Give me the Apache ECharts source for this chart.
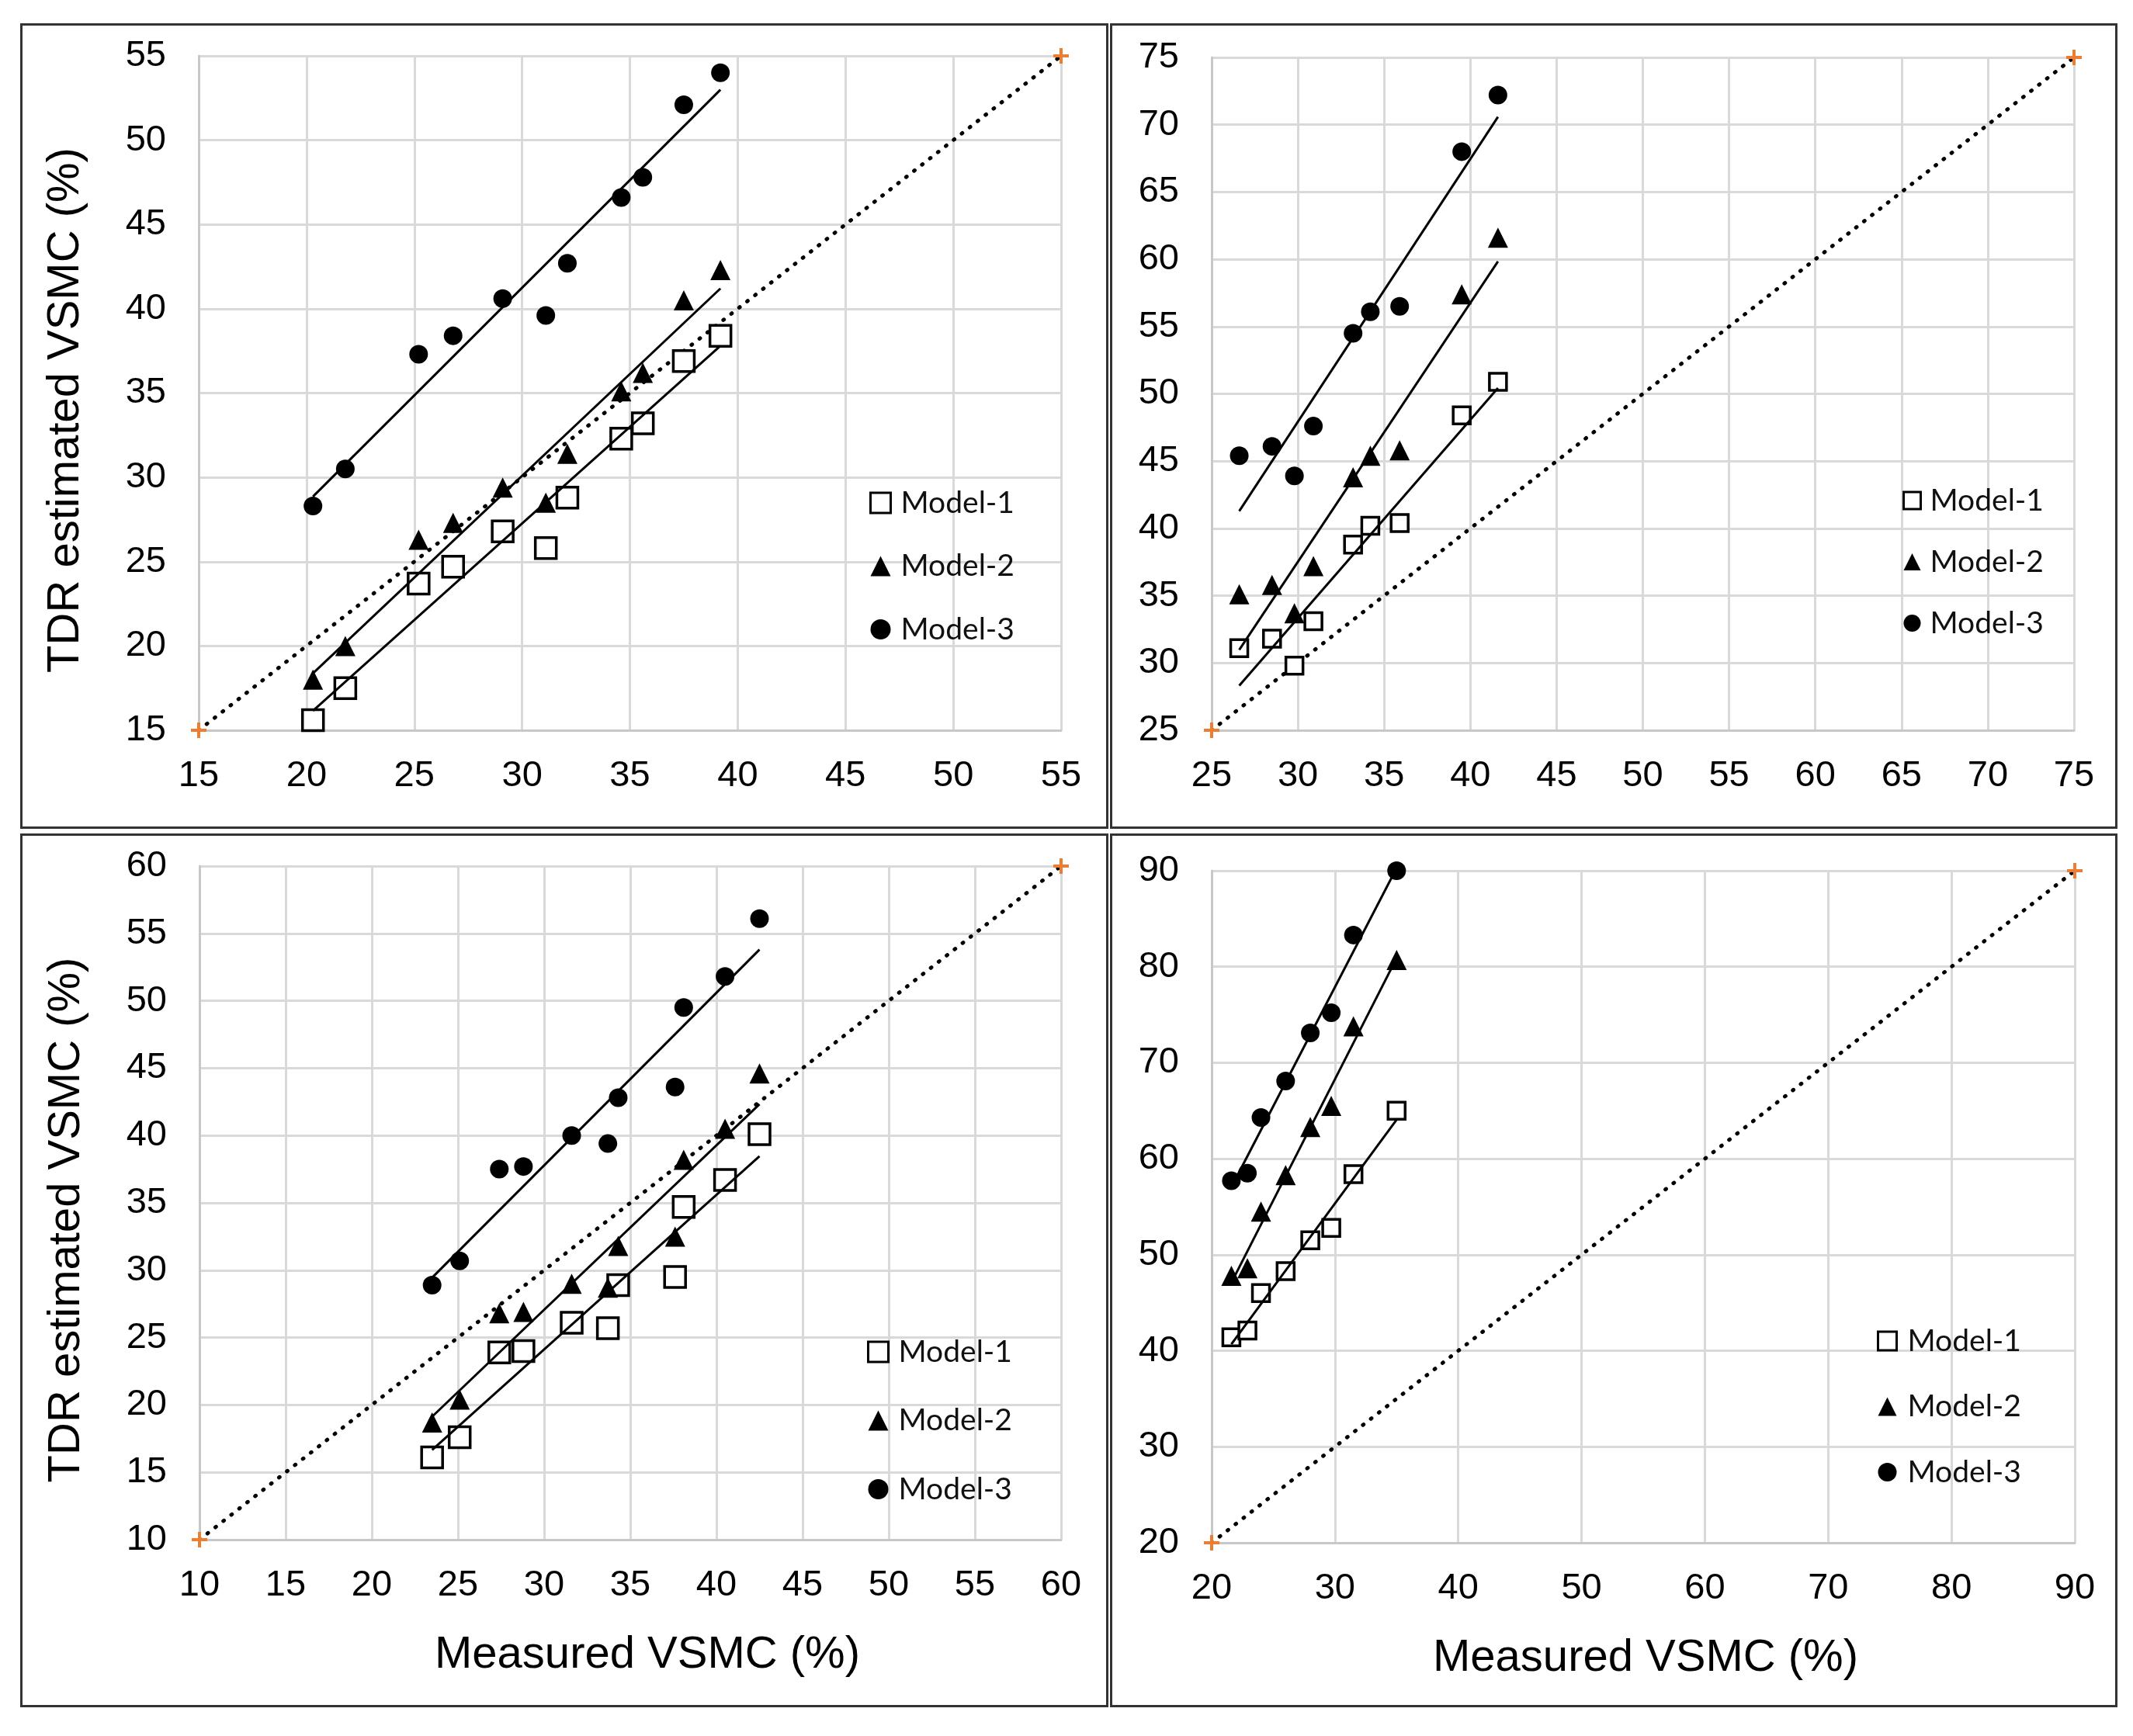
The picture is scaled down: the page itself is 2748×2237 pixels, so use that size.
<!DOCTYPE html>
<html>
<head>
<meta charset="utf-8">
<script src="https://cdn.jsdelivr.net/npm/echarts@6/dist/echarts.min.js"></script>
<style>
  html, body { margin: 0; padding: 0; background: #fff; }
  #chart { position: absolute; left: 0; top: 0; width: 2748px; height: 2237px; }
  .frame { position: absolute; box-sizing: border-box; border: 3px solid #333; pointer-events: none; }
</style>
</head>
<body>
<div id="chart"></div>
<div class="frame" style="left:26px;top:30px;width:1402px;height:1038px"></div>
<div class="frame" style="left:1430px;top:30px;width:1298px;height:1038px"></div>
<div class="frame" style="left:26px;top:1074px;width:1402px;height:1126px"></div>
<div class="frame" style="left:1430px;top:1074px;width:1298px;height:1126px"></div>
<script>
(function() {
  // ── Panel 1 (top-left) ──
  var p1Measured = [20.3, 21.8, 25.2, 26.8, 29.1, 31.1, 32.1, 34.6, 35.6, 37.5, 39.2];
  var p1Model1 = [15.6, 17.5, 23.7, 24.7, 26.8, 25.8, 28.8, 32.3, 33.2, 36.9, 38.4];
  var p1Model2 = [18.0, 20.0, 26.3, 27.3, 29.4, 28.5, 31.4, 35.1, 36.2, 40.5, 42.3];
  var p1Model3 = [28.3, 30.5, 37.3, 38.4, 40.6, 39.6, 42.7, 46.6, 47.8, 52.1, 54.0];
  var p1Range = [15, 55, 5];

  // ── Panel 2 (top-right) ──
  var p2Measured = [26.6, 28.5, 29.8, 30.9, 33.2, 34.2, 35.9, 39.5, 41.6];
  var p2Model1 = [31.1, 31.8, 29.8, 33.1, 38.8, 40.2, 40.4, 48.4, 50.9];
  var p2Model2 = [35.1, 35.8, 33.7, 37.2, 43.8, 45.4, 45.8, 57.4, 61.6];
  var p2Model3 = [45.4, 46.1, 43.9, 47.6, 54.5, 56.1, 56.5, 68.0, 72.2];
  var p2Range = [25, 75, 5];

  // ── Panel 3 (bottom-left) ──
  var p3Measured = [23.5, 25.1, 27.4, 28.8, 31.6, 33.7, 34.3, 37.6, 38.1, 40.5, 42.5];
  var p3Model1 = [16.1, 17.6, 23.9, 24.0, 26.1, 25.7, 28.9, 29.5, 34.7, 36.7, 40.1];
  var p3Model2 = [18.7, 20.4, 26.8, 26.9, 29.0, 28.7, 31.8, 32.5, 38.2, 40.5, 44.6];
  var p3Model3 = [28.9, 30.7, 37.5, 37.7, 40.0, 39.4, 42.8, 43.6, 49.5, 51.8, 56.1];
  var p3Range = [10, 60, 5];

  // ── Panel 4 (bottom-right) ──
  var p4Measured = [21.6, 22.9, 24.0, 26.0, 28.0, 29.7, 31.5, 35.0];
  var p4Model1 = [41.4, 42.1, 46.0, 48.3, 51.5, 52.8, 58.4, 65.0];
  var p4Model2 = [47.8, 48.6, 54.5, 58.3, 63.3, 65.5, 73.8, 80.7];
  var p4Model3 = [57.7, 58.5, 64.3, 68.1, 73.1, 75.2, 83.3, 90.0];
  var p4Range = [20, 90, 10];

  var modelNames = ['Model-1', 'Model-2', 'Model-3'];
  var xTitle = 'Measured VSMC (%)';
  var yTitle = 'TDR estimated VSMC (%)';

  var numFont = "'Liberation Sans', Arial, sans-serif";
  var legendFont = "Lato, 'Open Sans', sans-serif";
  var gridGray = '#d9d9d9';
  var axisGray = '#c8c8c8';
  var orange = '#ED7D31';
  var plus = 'path://M4,0h2v4h4v2h-4v4h-2v-4h-4v-2h4z';

  // layout of each panel (page pixels)
  var panels = [
    { xs: p1Measured, ys: [p1Model1, p1Model2, p1Model3], range: p1Range,
      grid: { left: 256, top: 72, width: 1111, height: 869 }, sq: 27, yName: true, xName: false,
      legend: { left: 1120, top: 628, size: 26, gap: 41.5, pad: 8 } },
    { xs: p2Measured, ys: [p2Model1, p2Model2, p2Model3], range: p2Range,
      grid: { left: 1561, top: 74, width: 1111, height: 867 }, sq: 22, yName: false, xName: false,
      legend: { left: 2451, top: 625, size: 22, gap: 39, pad: 7 } },
    { xs: p3Measured, ys: [p3Model1, p3Model2, p3Model3], range: p3Range,
      grid: { left: 257, top: 1116, width: 1110, height: 868 }, sq: 27, yName: true, xName: true, xShift: 44,
      legend: { left: 1117, top: 1722, size: 26, gap: 48.5, pad: 8 } },
    { xs: p4Measured, ys: [p4Model1, p4Model2, p4Model3], range: p4Range,
      grid: { left: 1561, top: 1122, width: 1112, height: 866 }, sq: 22, yName: false, xName: true, xShift: 6,
      legend: { left: 2418, top: 1708, size: 24, gap: 44.5, pad: 9 } }
  ];

  // least-squares trend line, spanning the measured range like Excel does
  function trend(xs, ys) {
    var n = xs.length, mx = 0, my = 0, sxy = 0, sxx = 0;
    for (var i = 0; i < n; i++) { mx += xs[i]; my += ys[i]; }
    mx /= n; my /= n;
    for (var j = 0; j < n; j++) {
      sxy += (xs[j] - mx) * (ys[j] - my);
      sxx += (xs[j] - mx) * (xs[j] - mx);
    }
    var b = sxy / sxx, a = my - b * mx;
    var lo = Math.min.apply(null, xs), hi = Math.max.apply(null, xs);
    return [[lo, a + b * lo], [hi, a + b * hi]];
  }

  function axis(p, k, isY) {
    var ax = {
      type: 'value', gridIndex: k,
      min: p.range[0], max: p.range[1], interval: p.range[2],
      axisLine: { show: true, onZero: false, lineStyle: { color: axisGray, width: 3 } },
      axisTick: { show: false },
      splitLine: { show: true, lineStyle: { color: gridGray, width: 3 } },
      axisLabel: { color: '#000', fontFamily: numFont, fontSize: 47, margin: isY ? 42 : 36 }
    };
    if (isY && p.yName) {
      ax.name = yTitle; ax.nameLocation = 'middle'; ax.nameGap = 142;
      ax.nameTextStyle = { color: '#000', fontFamily: numFont, fontSize: 58, padding: [0, 44, 0, 0] };
    }
    if (!isY && p.xName) {
      ax.name = xTitle; ax.nameLocation = 'middle'; ax.nameGap = 120;
      ax.nameTextStyle = { color: '#000', fontFamily: numFont, fontSize: 58, padding: [0, 0, 0, p.xShift] };
    }
    return ax;
  }

  var grids = [], xAxes = [], yAxes = [], legends = [], series = [];

  panels.forEach(function(p, k) {
    grids.push({ left: p.grid.left, top: p.grid.top, width: p.grid.width, height: p.grid.height,
      containLabel: false, outerBoundsMode: 'none' });
    xAxes.push(axis(p, k, false));
    yAxes.push(axis(p, k, true));

    legends.push({
      orient: 'vertical', left: p.legend.left, top: p.legend.top, padding: 0,
      itemWidth: p.legend.size, itemHeight: p.legend.size, itemGap: p.legend.gap,
      textStyle: { fontFamily: legendFont, fontSize: 39, lineHeight: 40, color: '#111',
        padding: [0, 0, 0, p.legend.pad] },
      data: [
        { name: modelNames[0], icon: 'rect', itemStyle: { color: '#fff', borderColor: '#000', borderWidth: 3, opacity: 1 } },
        { name: modelNames[1], icon: 'triangle', itemStyle: { color: '#000', opacity: 1 } },
        { name: modelNames[2], icon: 'circle', itemStyle: { color: '#000', opacity: 1 } }
      ]
    });

    // 1:1 line
    series.push({
      type: 'line', xAxisIndex: k, yAxisIndex: k, z: 1, silent: true, clip: false,
      data: [[p.range[0], p.range[0]], [p.range[1], p.range[1]]],
      symbol: plus, symbolSize: 20, showSymbol: true,
      itemStyle: { color: orange },
      lineStyle: { color: '#000', width: 5, type: [1, 12], cap: 'round' }
    });

    p.ys.forEach(function(ys, m) {
      var pts = p.xs.map(function(x, i) { return [x, ys[i]]; });
      var s = {
        type: 'scatter', name: modelNames[m], xAxisIndex: k, yAxisIndex: k, z: 2, clip: false,
        data: pts
      };
      if (m === 0) {
        s.symbol = 'rect'; s.symbolSize = p.sq;
        s.itemStyle = { color: '#fff', borderColor: '#000', borderWidth: 3.5, opacity: 1 };
      } else if (m === 1) {
        s.symbol = 'triangle'; s.symbolSize = 26;
        s.itemStyle = { color: '#000', opacity: 1 };
      } else {
        s.symbol = 'circle'; s.symbolSize = 24;
        s.itemStyle = { color: '#000', opacity: 1 };
      }
      series.push(s);
      series.push({
        type: 'line', xAxisIndex: k, yAxisIndex: k, z: 3, silent: true,
        data: trend(p.xs, ys), symbol: 'none',
        lineStyle: { color: '#000', width: 3 }
      });
    });
  });

  var chart = echarts.init(document.getElementById('chart'), null, { renderer: 'canvas' });
  chart.setOption({
    animation: false,
    backgroundColor: '#fff',
    grid: grids,
    xAxis: xAxes,
    yAxis: yAxes,
    legend: legends,
    series: series
  });
  window.addEventListener('resize', function() { chart.resize(); });
})();
</script>
</body>
</html>
